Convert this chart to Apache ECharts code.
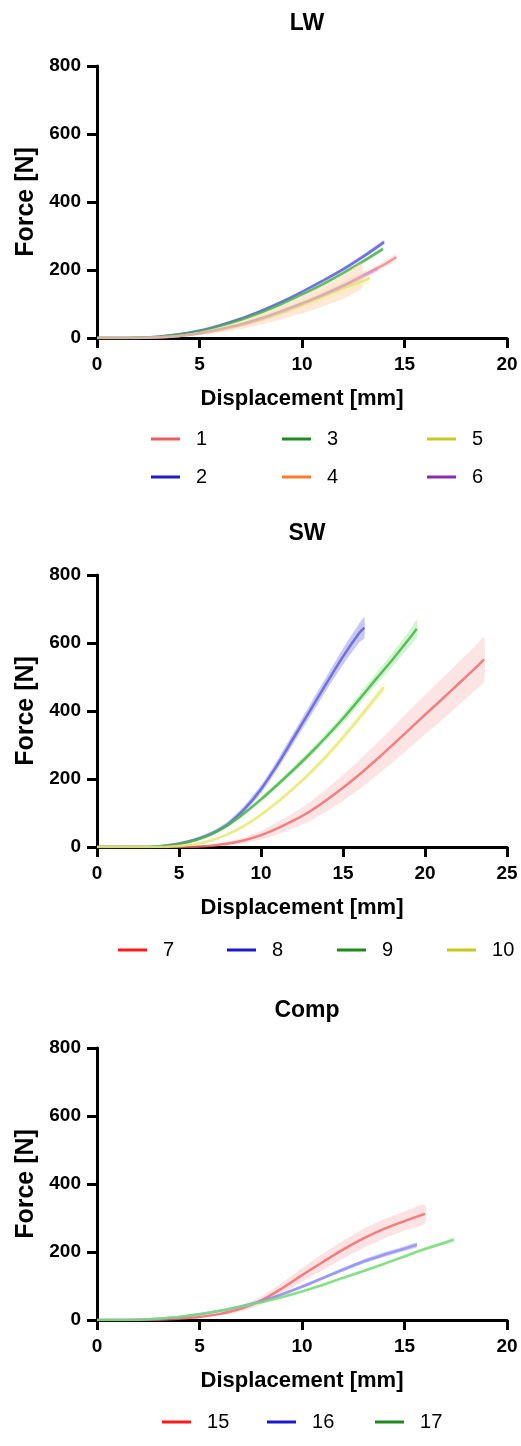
<!DOCTYPE html>
<html>
<head>
<meta charset="utf-8">
<script src="https://cdn.jsdelivr.net/npm/echarts@6/dist/echarts.min.js"></script>
<style>
html,body{margin:0;padding:0;background:#fff;}
#chart{width:521px;height:1446px;}
</style>
</head>
<body>
<div id="chart"></div>
<script>
// ---------- Tick labels / titles ----------
const panelTitles = ['LW', 'SW', 'Comp'];
const xAxisMax = [20, 25, 20];
const xTickInterval = 5;
const yAxisMax = 800;
const yTickInterval = 200;
const xAxisName = 'Displacement [mm]';
const yAxisName = 'Force [N]';

// ---------- LW panel (series 1-6) ----------
const lw1X = [0,1,2,3,4,5,6,7,8,9,10,11,12,13,14,14.6];
const lw1F = [0,0,0,2,6,13,24,38,55,76,100,126,154,185,216,238];
const lw1Sd = [0,0,0,1,2,3,4,5,6,7,8,9,10,10,10,10];

const lw2X = [0,1,2,3,4,5,6,7,8,9,10,11,12,13,14];
const lw2F = [0,0,1,4,11,22,38,57,80,106,136,168,202,240,282];
const lw2Sd = [0,0,0,1,1,2,2,3,3,4,4,5,5,6,6];

const lw3X = [0,1,2,3,4,5,6,7,8,9,10,11,12,13,13.95];
const lw3F = [0,0,1,4,10,20,35,53,75,100,128,158,191,226,262];
const lw3Sd = [0,0,0,1,1,2,2,3,3,4,4,5,5,6,6];

const lw4X = [0,1,2,3,4,5,6,7,8,9,10,11,12,12.9];
const lw4F = [0,0,0,2,6,14,24,38,55,75,98,123,150,183];
const lw4Sd = [0,0,0,1,3,5,8,12,16,20,25,30,35,37];

const lw5X = [0,1,2,3,4,5,6,7,8,9,10,11,12,13,13.3];
const lw5F = [0,0,0,2,6,14,26,40,58,78,100,122,147,168,177];
const lw5Sd = [0,0,0,1,2,3,5,6,8,10,12,13,14,15,15];

const lw6X = [0,1,2,3,4,5,6,7,8,9,10,11,12,13,13.7];
const lw6F = [0,0,0,2,6,14,26,40,58,79,102,126,153,182,203];
const lw6Sd = [0,0,0,1,1,2,2,3,3,4,4,5,5,6,6];

// ---------- SW panel (series 7-10) ----------
const sw7X = [0,1,2,3,4,5,6,7,8,9,10,11,12,13,14,15,16,17,18,19,20,21,22,23,23.6];
const sw7F = [0,0,0,0,0,0,1,4,10,20,35,55,78,105,138,174,213,255,299,344,389,433,478,523,552];
const sw7Sd = [0,0,0,0,0,0,1,3,6,9,13,18,23,28,33,38,43,47,51,55,58,61,63,65,66];

const sw8X = [0,1,2,3,4,5,6,7,8,9,10,11,12,13,14,15,16,16.3];
const sw8F = [0,0,0,0,3,10,22,40,68,112,170,242,322,402,482,560,630,645];
const sw8Sd = [0,0,0,0,1,2,4,6,8,10,12,14,16,18,20,24,28,31];

const sw9X = [0,1,2,3,4,5,6,7,8,9,10,11,12,13,14,15,16,17,18,19,19.5];
const sw9F = [0,0,0,0,3,9,20,38,65,100,140,183,228,275,325,378,435,493,550,610,642];
const sw9Sd = [0,0,0,0,1,2,3,4,5,6,7,8,9,10,11,13,15,17,20,23,26];

const sw10X = [0,1,2,3,4,5,6,7,8,9,10,11,12,13,14,15,16,17,17.5];
const sw10F = [0,0,0,0,0,3,8,20,38,63,95,132,173,218,268,322,380,440,470];
const sw10Sd = [0,0,0,0,0,1,2,3,4,5,6,7,8,9,10,11,12,14,15];

// ---------- Comp panel (series 15-17) ----------
const cp15X = [0,1,2,3,4,5,6,7,8,9,10,11,12,13,14,15,16];
const cp15F = [0,0,0,1,4,9,18,33,57,92,132,170,207,240,268,291,312];
const cp15Sd = [0,0,0,1,2,3,5,8,12,16,20,24,26,28,28,28,28];

const cp16X = [0,1,2,3,4,5,6,7,8,9,10,11,12,13,14,15,15.6];
const cp16F = [0,0,1,4,9,17,27,40,55,75,98,123,148,172,192,210,221];
const cp16Sd = [0,0,0,1,1,2,2,3,3,4,5,5,6,6,7,7,7];

const cp17X = [0,1,2,3,4,5,6,7,8,9,10,11,12,13,14,15,16,17,17.4];
const cp17F = [0,0,1,4,9,17,27,39,52,67,84,103,124,144,165,187,209,228,236];
const cp17Sd = [0,0,0,1,1,1,2,2,2,3,3,3,4,4,4,5,5,5,5];

// ---------- Series definitions ----------
const curves = [
  {panel:0, name:'1', x:lw1X, f:lw1F, sd:lw1Sd, legend:'#f25a5a', line:'rgba(240,120,120,0.7)', band:'rgba(245,140,140,0.18)'},
  {panel:0, name:'2', x:lw2X, f:lw2F, sd:lw2Sd, legend:'#1c1cc8', line:'rgba(80,80,220,0.75)', band:'rgba(90,90,230,0.28)'},
  {panel:0, name:'3', x:lw3X, f:lw3F, sd:lw3Sd, legend:'#1f8a1f', line:'rgba(60,170,60,0.75)', band:'rgba(90,210,90,0.28)'},
  {panel:0, name:'4', x:lw4X, f:lw4F, sd:lw4Sd, legend:'#ff7a2a', line:'rgba(250,190,140,0.5)', band:'rgba(252,205,165,0.45)'},
  {panel:0, name:'5', x:lw5X, f:lw5F, sd:lw5Sd, legend:'#c8c81e', line:'rgba(228,228,110,0.8)', band:'rgba(238,238,140,0.3)'},
  {panel:0, name:'6', x:lw6X, f:lw6F, sd:lw6Sd, legend:'#8b2bb0', line:'rgba(200,140,230,0.45)', band:'rgba(200,140,230,0.18)'},
  {panel:1, name:'7', x:sw7X, f:sw7F, sd:sw7Sd, legend:'#ff1a1a', line:'rgba(240,100,100,0.8)', band:'rgba(245,130,130,0.22)'},
  {panel:1, name:'8', x:sw8X, f:sw8F, sd:sw8Sd, legend:'#1a1ad0', line:'rgba(90,90,215,0.8)', band:'rgba(110,110,235,0.38)'},
  {panel:1, name:'9', x:sw9X, f:sw9F, sd:sw9Sd, legend:'#1a8a1a', line:'rgba(70,180,70,0.85)', band:'rgba(120,225,120,0.35)'},
  {panel:1, name:'10', x:sw10X, f:sw10F, sd:sw10Sd, legend:'#c8c81a', line:'rgba(230,230,120,0.85)', band:'rgba(240,240,140,0.35)'},
  {panel:2, name:'15', x:cp15X, f:cp15F, sd:cp15Sd, legend:'#ff1a1a', line:'rgba(240,100,100,0.8)', band:'rgba(245,140,140,0.25)'},
  {panel:2, name:'16', x:cp16X, f:cp16F, sd:cp16Sd, legend:'#1a1ad0', line:'rgba(140,140,245,0.8)', band:'rgba(140,140,245,0.45)'},
  {panel:2, name:'17', x:cp17X, f:cp17F, sd:cp17Sd, legend:'#1a8a1a', line:'rgba(120,220,120,0.85)', band:'rgba(140,230,140,0.4)'}
];

// legend item positions (icon left x, row centre y)
const legendPos = {
  '1':[146,435], '3':[277,435], '5':[422,435],
  '2':[146,473], '4':[277,473], '6':[422,473],
  '7':[113,946], '8':[222,946], '9':[332,946], '10':[442,946],
  '15':[157,1418], '16':[262,1418], '17':[370,1418]
};

// ---------- Layout ----------
const gridTops = [66, 575, 1048];
const gridHeight = 272;
const titleCenters = [20, 530, 1007];
const FONT = '"Liberation Sans", Arial, sans-serif';

const grids = gridTops.map(t => ({left:97, right:14, top:t, height:gridHeight, containLabel:false}));

const xAxes = xAxisMax.map((mx, i) => ({
  type:'value', gridIndex:i, min:0, max:mx, interval:xTickInterval,
  name:xAxisName, nameLocation:'middle', nameGap:50,
  nameTextStyle:{fontFamily:FONT, fontWeight:'bold', fontSize:22, color:'#000'},
  axisLine:{show:true, onZero:false, lineStyle:{color:'#000', width:3}},
  axisTick:{show:true, length:10, lineStyle:{color:'#000', width:3}},
  axisLabel:{fontFamily:FONT, fontWeight:'bold', fontSize:19, color:'#000', margin:17},
  splitLine:{show:false}
}));

const yAxes = gridTops.map((t, i) => ({
  type:'value', gridIndex:i, min:0, max:yAxisMax, interval:yTickInterval,
  name:yAxisName, nameLocation:'middle', nameGap:58, nameRotate:90,
  nameTextStyle:{fontFamily:FONT, fontWeight:'bold', fontSize:25, color:'#000'},
  axisLine:{show:true, onZero:false, lineStyle:{color:'#000', width:3}},
  axisTick:{show:true, length:10, lineStyle:{color:'#000', width:3}},
  axisLabel:{fontFamily:FONT, fontWeight:'bold', fontSize:19, color:'#000', margin:16},
  splitLine:{show:false}
}));

const titles = panelTitles.map((t, i) => ({
  text:t, left:302, top:titleCenters[i] - 13, textAlign:'center',
  textStyle:{fontFamily:FONT, fontWeight:'bold', fontSize:23, color:'#000'}
}));

const series = [];
const panelCount = [0, 0, 0];
curves.forEach(c => {
  const xs = c.x, fs = c.f, sds = c.sd;
  const order = panelCount[c.panel]++;
  series.push({
    type:'custom', name:'band' + c.name, xAxisIndex:c.panel, yAxisIndex:c.panel,
    silent:true, z:2 + order * 2,
    data: xs.map((x, k) => [x, fs[k] - sds[k], fs[k] + sds[k]]),
    encode:{x:0, y:[1,2]},
    renderItem: function (params, api) {
      if (params.dataIndex !== 0) return null;
      const upper = [], lower = [];
      for (let k = 0; k < xs.length; k++) {
        upper.push(api.coord([xs[k], fs[k] + sds[k]]));
        lower.push(api.coord([xs[k], Math.max(0, fs[k] - sds[k])]));
      }
      const pts = upper.concat(lower.reverse());
      return {type:'polygon', shape:{points:pts, smooth:0.2}, style:{fill:c.band, stroke:null}};
    }
  });
  series.push({
    type:'line', name:c.name, xAxisIndex:c.panel, yAxisIndex:c.panel,
    data: xs.map((x, k) => [x, fs[k]]),
    showSymbol:false, smooth:0.35, z:3 + order * 2,
    itemStyle:{color:c.legend},
    lineStyle:{color:c.line, width:2.5}
  });
});

const legends = curves.map(c => ({
  data:[{name:c.name, itemStyle:{color:c.legend}}],
  left:legendPos[c.name][0], top:legendPos[c.name][1] - 11,
  icon:'rect', itemWidth:29, itemHeight:3,
  selectedMode:false,
  formatter: n => '  ' + n,
  textStyle:{fontFamily:FONT, fontSize:20, color:'#000'}
}));

const chart = echarts.init(document.getElementById('chart'), null, {renderer:'canvas'});
chart.setOption({
  backgroundColor:'#fff',
  animation:false,
  title:titles,
  grid:grids,
  xAxis:xAxes,
  yAxis:yAxes,
  legend:legends,
  series:series
});
</script>
</body>
</html>
